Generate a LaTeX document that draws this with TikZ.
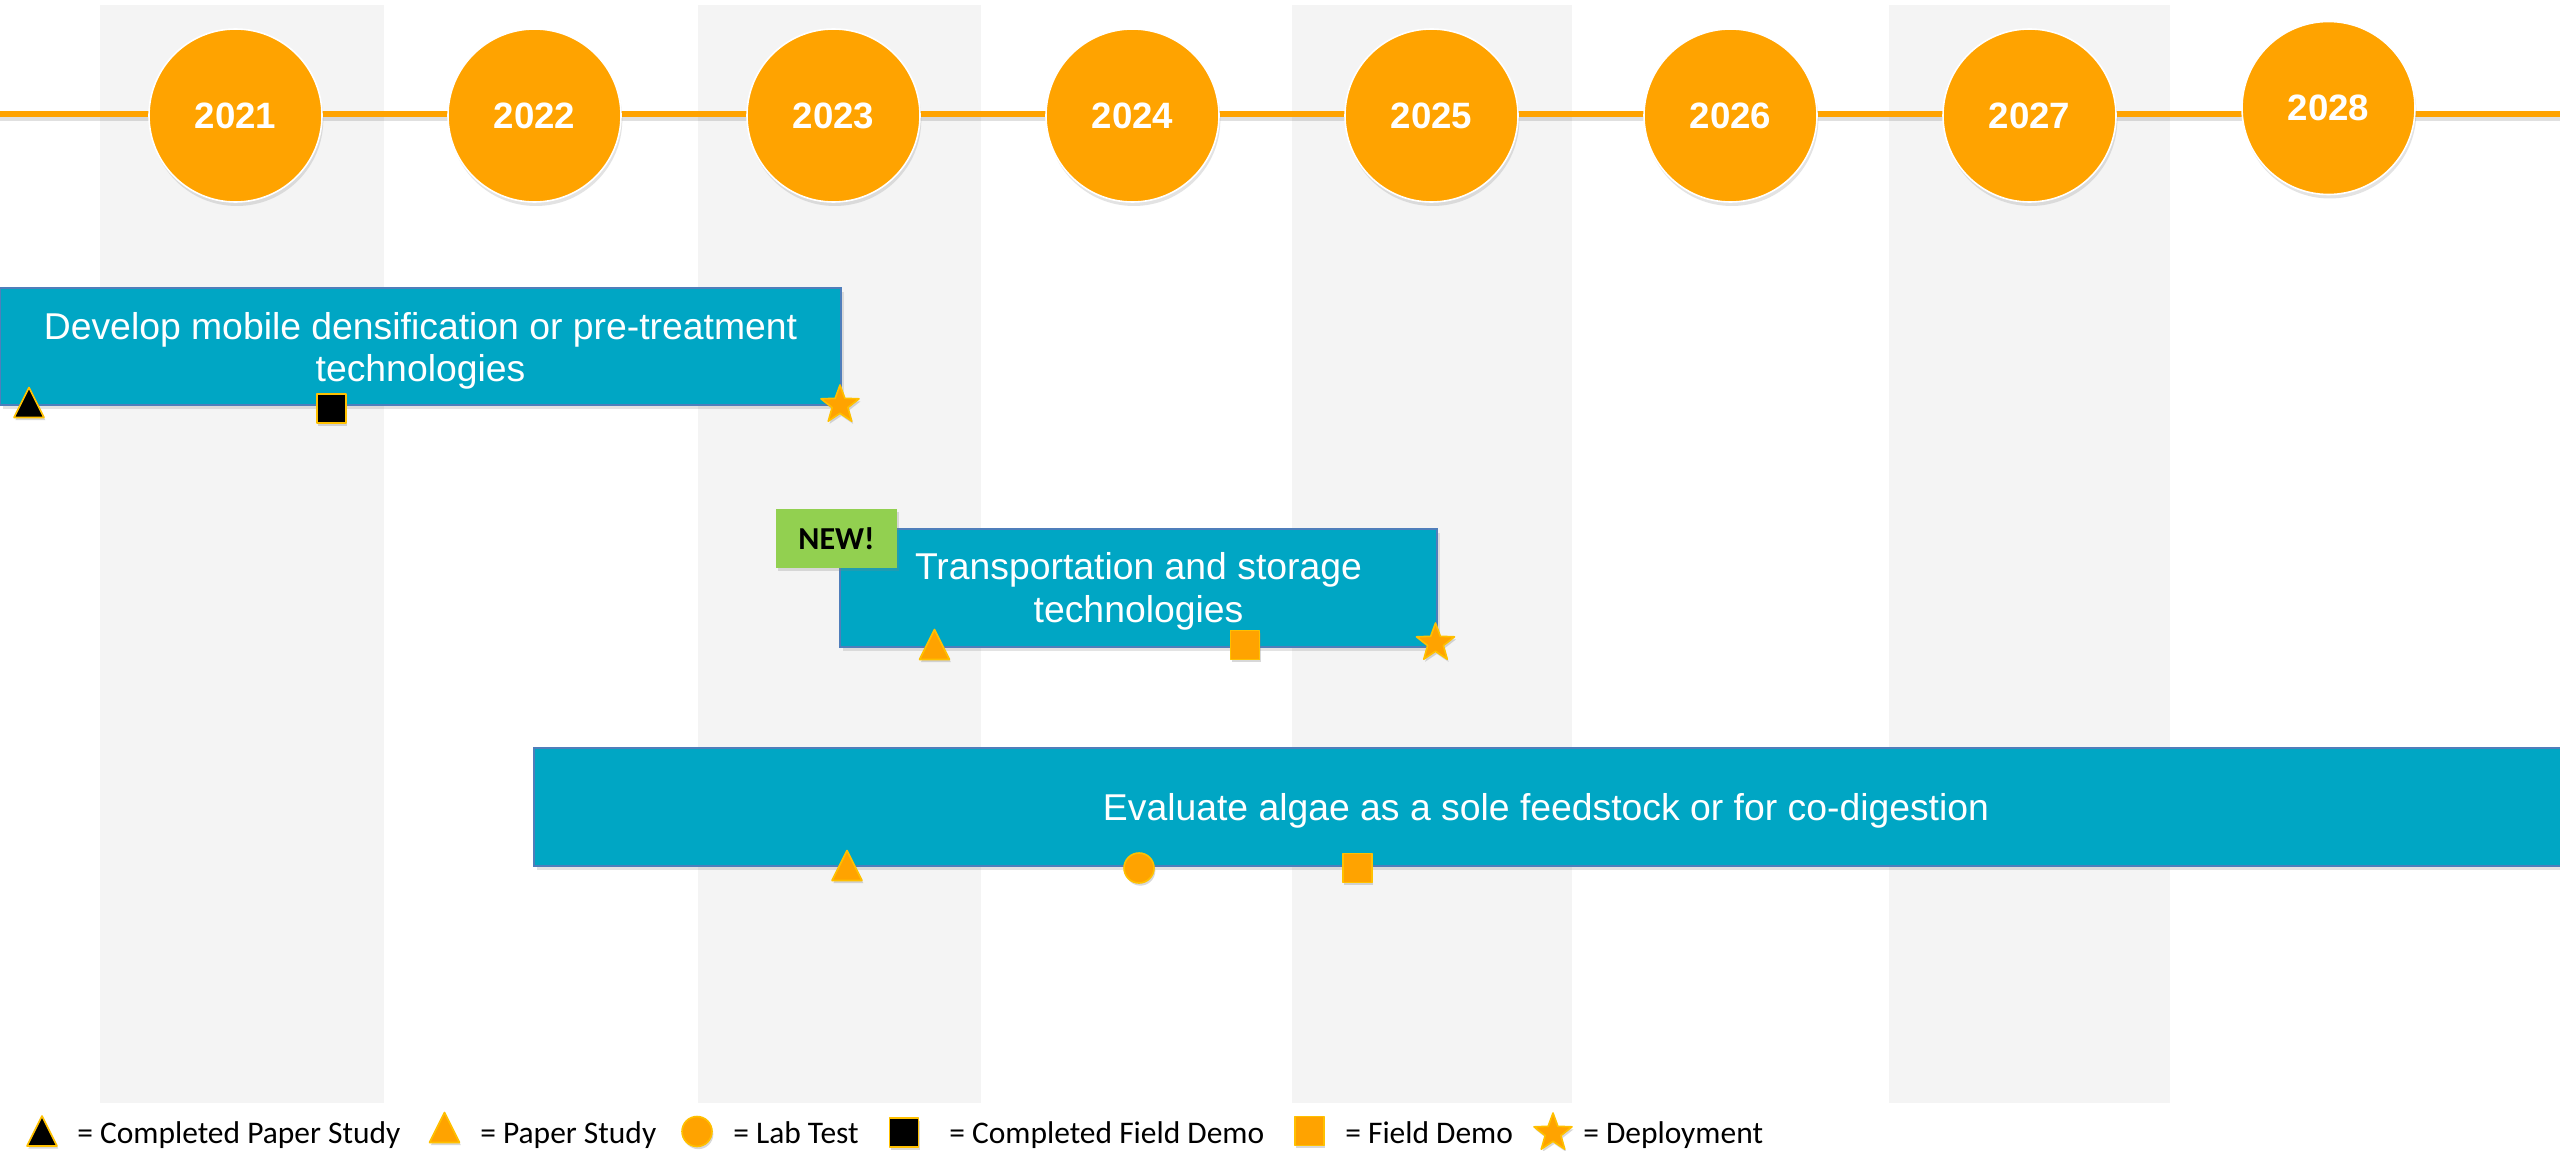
\documentclass[tikz,border=0pt]{standalone}
\usepackage{fontspec}
\setmainfont{Liberation Sans}
\newfontfamily\calib{Carlito}
\usetikzlibrary{shadows}
\definecolor{tlorange}{HTML}{FFA300}
\definecolor{mkgold}{HTML}{FFC000}
\definecolor{boxteal}{HTML}{00A6C4}
\definecolor{boxedge}{HTML}{4F7EBB}
\definecolor{colgray}{HTML}{F4F4F4}
\definecolor{newgreen}{HTML}{92D050}
\begin{document}
\begin{tikzpicture}[x=0.75pt,y=-0.75pt,
  yr/.style={circle, fill=tlorange, draw=white, line width=1.2pt, minimum size=173*0.75pt, inner sep=0pt,
    text=white, font=\fontsize{27.5}{30}\selectfont\bfseries,
    drop shadow={shadow xshift=1pt, shadow yshift=-3pt, opacity=0.22}},
  taskbox/.style={rectangle, fill=boxteal, draw=boxedge, line width=0.8pt, inner sep=0pt,
    drop shadow={shadow xshift=2pt, shadow yshift=-3pt, opacity=0.22}},
  tasktext/.style={text=white, font=\fontsize{28}{32}\selectfont, inner sep=0pt, anchor=base},
  newbox/.style={rectangle, fill=newgreen, inner sep=0pt, minimum width=121*0.75pt, minimum height=59*0.75pt,
    font=\calib\bfseries\fontsize{24}{28}\selectfont,
    drop shadow={shadow xshift=1.5pt, shadow yshift=-2pt, opacity=0.25}},
  legtext/.style={font=\calib\fontsize{23.6}{28}\selectfont, anchor=base west, inner sep=0pt},
  mk/.style={draw=mkgold, line width=1.2pt, line join=round,
    drop shadow={shadow xshift=1pt, shadow yshift=-2pt, opacity=0.3}},
  tri/.pic={\filldraw[mk, fill=#1] (-15,15) -- (0,-15) -- (15,15) -- cycle;},
  sq/.pic={\filldraw[mk, fill=#1] (-14.5,-14.5) rectangle (14.5,14.5);},
  dot/.pic={\filldraw[mk, fill=tlorange] (0,0) circle (15);},
  dstar/.pic={\filldraw[mk, fill=tlorange] (270:20) -- (306:8.3) -- (342:20) -- (18:8.3) -- (54:20) -- (90:8.3) -- (126:20) -- (162:8.3) -- (198:20) -- (234:8.3) -- cycle;}
]
\useasboundingbox (0,0) rectangle (2560,1151);
\fill[white] (0,0) rectangle (2560,1151);
% background columns
\fill[colgray] (100,5) rectangle (384,1103);
\fill[colgray] (698,5) rectangle (981,1103);
\fill[colgray] (1292,5) rectangle (1572,1103);
\fill[colgray] (1889,5) rectangle (2170,1103);
% timeline
\coordinate (tlA) at (0,114);
\coordinate (tlB) at (2560,114);
\draw[line width=4.5pt, black, opacity=0.12, transform canvas={yshift=-3pt}] (tlA) -- (tlB);
\draw[line width=4.5pt, tlorange] (tlA) -- (tlB);
% years
\node[yr] (y2021) at (235.5,115.5) {2021};
\node[yr] (y2022) at (534.5,115.5) {2022};
\node[yr] (y2023) at (833.5,115.5) {2023};
\node[yr] (y2024) at (1132.5,115.5) {2024};
\node[yr] (y2025) at (1431.5,115.5) {2025};
\node[yr] (y2026) at (1730.5,115.5) {2026};
\node[yr] (y2027) at (2029.5,115.5) {2027};
\node[yr] (y2028) at (2328.5,108) {2028};
% task boxes
\node[taskbox, minimum width=841*0.75pt, minimum height=117*0.75pt] (b1) at (420.5,346.5) {};
\node[taskbox, minimum width=597*0.75pt, minimum height=118*0.75pt] (b2) at (1138.5,588) {};
\node[newbox] (new) at (836.5,538.5) {NEW!};
\node[taskbox, minimum width=2036*0.75pt, minimum height=118*0.75pt] (b3) at (1552,807) {};
\node[tasktext] (t1a) at (420.5,339.5) {Develop mobile densification or pre-treatment};
\node[tasktext] (t1b) at (420.5,382) {technologies};
\node[tasktext] (t2a) at (1138.5,580) {Transportation and storage};
\node[tasktext] (t2b) at (1138.5,623) {technologies};
\node[tasktext] (t3a) at (1546,820) {Evaluate algae as a sole feedstock or for co-digestion};
% milestones
\pic at (29,402.5) {tri=black};
\pic at (331.5,408.5) {sq=black};
\pic at (840,405) {dstar};
\pic at (934.5,644.5) {tri=tlorange};
\pic at (1245,645) {sq=tlorange};
\pic at (1435.5,643) {dstar};
\pic at (847,865.5) {tri=tlorange};
\pic at (1139,868) {dot};
\pic at (1357.5,868) {sq=tlorange};
% legend
\pic at (42,1131) {tri=black};
\node[legtext] (l1) at (77,1143) {= Completed Paper Study};
\pic at (444.5,1127.5) {tri=tlorange};
\node[legtext] (l2) at (480,1143) {= Paper Study};
\pic at (697,1131.5) {dot};
\node[legtext] (l3) at (733,1143) {= Lab Test};
\pic at (904,1132.5) {sq=black};
\node[legtext] (l4) at (949,1143) {= Completed Field Demo};
\pic at (1309.5,1131) {sq=tlorange};
\node[legtext] (l5) at (1345,1143) {= Field Demo};
\pic at (1553,1133) {dstar};
\node[legtext] (l6) at (1583,1143) {= Deployment};
\end{tikzpicture}
\end{document}
